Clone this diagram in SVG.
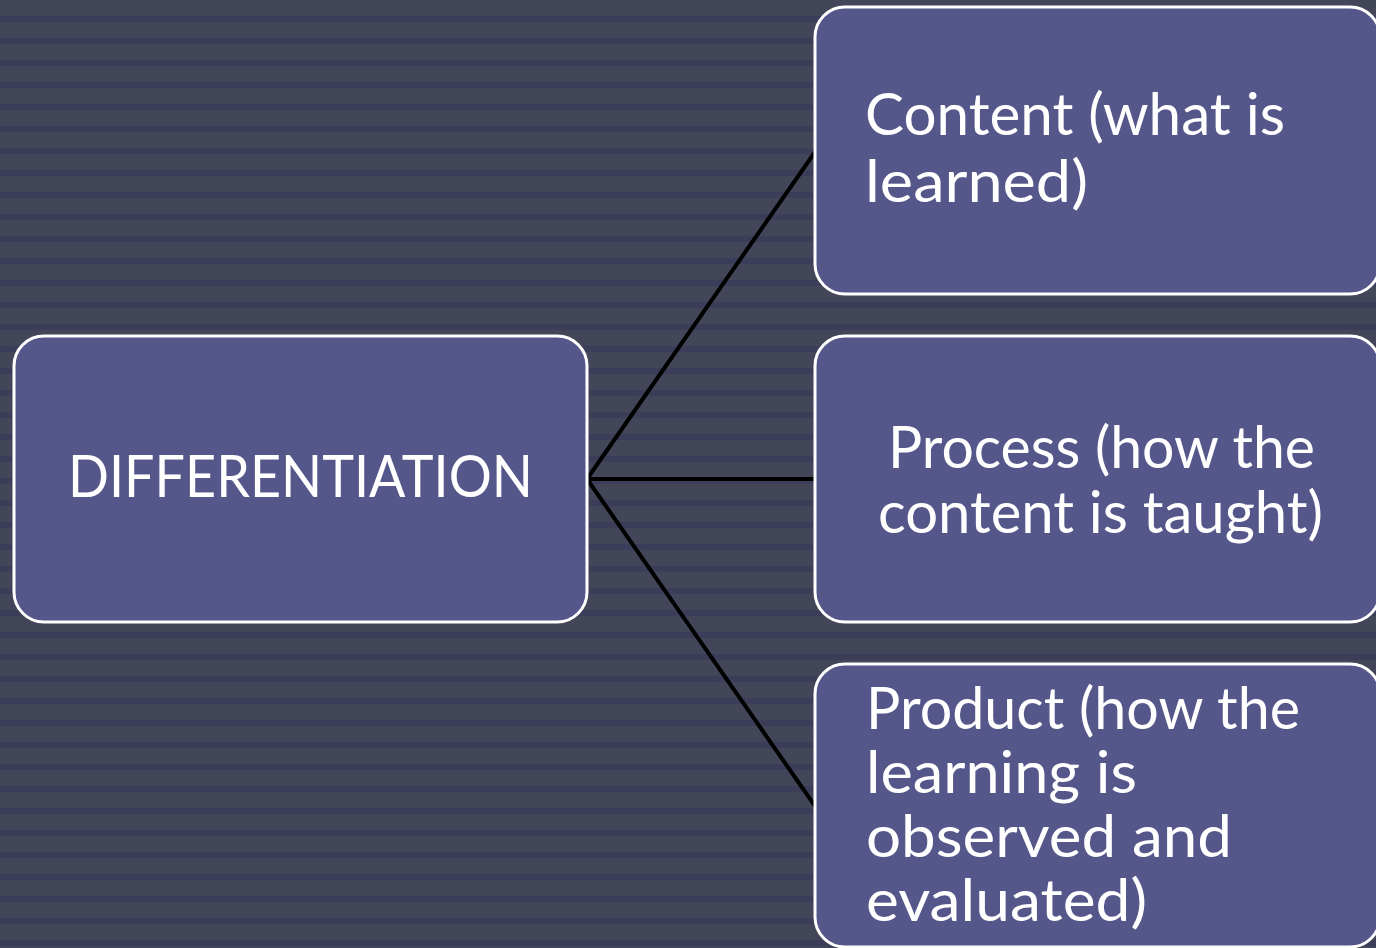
<svg xmlns="http://www.w3.org/2000/svg" width="1376" height="948" viewBox="0 0 1376 948">
  <defs>
    <pattern id="stripes" x="0" y="0" width="22" height="22" patternUnits="userSpaceOnUse">
      <rect x="0" y="0" width="22" height="16" fill="#434559"/>
      <rect x="0" y="16" width="22" height="6" fill="#3c3d58"/>
    </pattern>
  </defs>
  <style>
    .box { fill: #55568a; stroke: #ffffff; stroke-width: 3; }
    .lbl { fill: #ffffff; font-family: Lato, "Liberation Sans", sans-serif; font-size: 58px; }
    .link { stroke: #000000; stroke-width: 4; fill: none; }
  </style>

  <!-- striped backdrop -->
  <rect x="0" y="0" width="1376" height="948" fill="url(#stripes)"/>

  <!-- connectors -->
  <g id="connectors">
    <line class="link" x1="587" y1="479" x2="815" y2="152"/>
    <line class="link" x1="587" y1="479" x2="815" y2="479"/>
    <line class="link" x1="587" y1="479" x2="815" y2="806"/>
  </g>

  <g id="node-differentiation">
    <rect class="box" x="14" y="336" width="573" height="286" rx="30" ry="30"/>
    <text class="lbl" x="68" y="497" textLength="465" lengthAdjust="spacingAndGlyphs">DIFFERENTIATION</text>
  </g>

  <g id="node-content">
    <rect class="box" x="815" y="7" width="565" height="287" rx="30" ry="30"/>
    <text class="lbl" x="865" y="135" textLength="420" lengthAdjust="spacingAndGlyphs">Content (what is</text>
    <text class="lbl" x="865" y="202" textLength="223" lengthAdjust="spacingAndGlyphs">learned)</text>
  </g>

  <g id="node-process">
    <rect class="box" x="815" y="336" width="565" height="286" rx="30" ry="30"/>
    <text class="lbl" x="888" y="468" textLength="427" lengthAdjust="spacingAndGlyphs">Process (how the</text>
    <text class="lbl" x="878" y="533" textLength="445" lengthAdjust="spacingAndGlyphs">content is taught)</text>
  </g>

  <g id="node-product">
    <rect class="box" x="815" y="664" width="565" height="283" rx="30" ry="30"/>
    <text class="lbl" x="866" y="729" textLength="434" lengthAdjust="spacingAndGlyphs">Product (how the</text>
    <text class="lbl" x="866" y="793" textLength="271" lengthAdjust="spacingAndGlyphs">learning is</text>
    <text class="lbl" x="866" y="857" textLength="366" lengthAdjust="spacingAndGlyphs">observed and</text>
    <text class="lbl" x="866" y="921" textLength="281" lengthAdjust="spacingAndGlyphs">evaluated)</text>
  </g>
</svg>
